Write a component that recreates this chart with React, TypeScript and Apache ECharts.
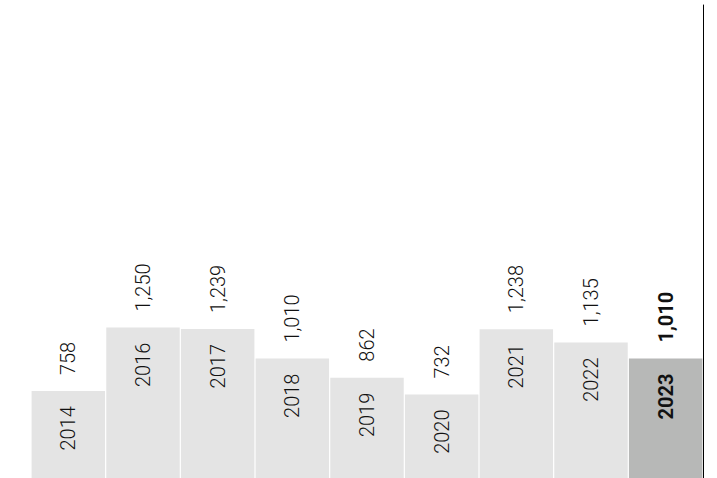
import React, { useEffect, useRef } from "react";
import * as echarts from "echarts";

const years = ["2014", "2016", "2017", "2018", "2019", "2020", "2021", "2022", "2023"];
const values = [758, 1250, 1239, 1010, 862, 732, 1238, 1135, 1010];
const highlightYear = "2023";

const FONT = "Roboto, 'Liberation Sans', Arial, sans-serif";

export default function App() {
  const ref = useRef<HTMLDivElement>(null);
  useEffect(() => {
    document.body.style.margin = "0";
    const chart = echarts.init(ref.current!, null, { renderer: "svg" });
    const fmt = (v: number) => v.toLocaleString("en-US");
    chart.setOption({
      animation: false,
      backgroundColor: "#ffffff",
      grid: { left: 31, right: 14, top: 5, bottom: 0, containLabel: false },
      xAxis: {
        type: "category",
        data: years,
        axisLine: { show: false },
        axisTick: { show: false },
        axisLabel: { show: false },
      },
      yAxis: {
        type: "value",
        position: "right",
        min: 85,
        max: 3749,
        splitLine: { show: false },
        axisLabel: { show: false },
        axisTick: { show: false },
        axisLine: { show: true, onZero: false, lineStyle: { color: "#000000", width: 1 } },
      },
      graphic: [
        {
          type: "line",
          shape: { x1: 0.5, y1: 37, x2: 0.5, y2: 478 },
          style: {
            lineWidth: 1.5,
            stroke: new echarts.graphic.LinearGradient(0, 0, 0, 1, [
              { offset: 0, color: "#dde1ea" },
              { offset: 0.5, color: "#c3cad6" },
              { offset: 1, color: "#7f967f" },
            ]),
          },
        },
      ],
      series: [
        {
          type: "bar",
          barCategoryGap: "1.6%",
          clip: true,
          data: values.map((v, i) => ({
            value: v,
            itemStyle: { color: years[i] === highlightYear ? "#b7b8b7" : "#e4e4e4" },
            label: years[i] === highlightYear ? { fontWeight: "bold" } : {},
          })),
          label: {
            show: true,
            position: "top",
            distance: 16,
            rotate: 90,
            align: "left",
            verticalAlign: "middle",
            fontFamily: FONT,
            fontWeight: 300,
            fontSize: 20,
            color: "#111111",
            formatter: (p: any) => fmt(p.value),
          },
        },
        {
          type: "bar",
          barGap: "-100%",
          barCategoryGap: "1.6%",
          clip: true,
          itemStyle: { color: "rgba(0,0,0,0)" },
          silent: true,
          data: values.map((v, i) => ({
            value: v,
            label: years[i] === highlightYear ? { fontWeight: "bold" } : {},
          })),
          label: {
            show: true,
            position: "insideTop",
            distance: 15,
            rotate: 90,
            align: "right",
            verticalAlign: "middle",
            fontFamily: FONT,
            fontWeight: 300,
            fontSize: 20,
            color: "#111111",
            formatter: (p: any) => years[p.dataIndex],
          },
        },
      ],
    });
    return () => chart.dispose();
  }, []);
  return <div ref={ref} style={{ width: 717, height: 478 }} />;
}
